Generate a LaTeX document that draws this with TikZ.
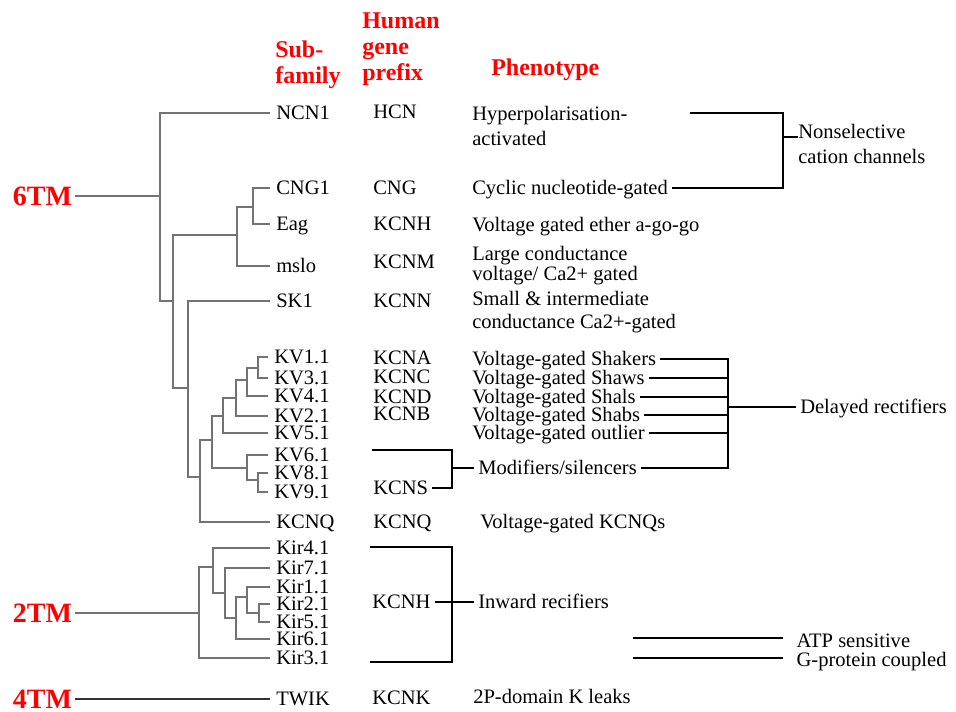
\documentclass[tikz,border=0pt]{standalone}
\usepackage{fontspec}
\setmainfont{Liberation Serif}[BoldFont={Liberation Serif Bold}]
\newcommand\lift{\rule{0pt}{14pt}}

\begin{document}
\begin{tikzpicture}[x=0.75pt, y=-0.75pt,
    lbl/.style={anchor=west, inner xsep=3pt, inner ysep=0pt, text height=10.2pt, text depth=0pt,
      font=\fontsize{15.4}{18}\selectfont},
    leaf/.style={lbl, inner xsep=4.5pt},
    twoline/.style={anchor=north west, inner sep=0pt, align=left, font=\fontsize{15.4}{#1}\selectfont},
    head/.style={anchor=north west, inner sep=0pt, align=left, text=red,
      font=\fontsize{18}{19.5}\selectfont\bfseries},
    tm/.style={anchor=west, inner xsep=2pt, inner ysep=0pt, text height=13.9pt, text depth=0pt,
      text=red, font=\fontsize{21}{24}\selectfont\bfseries},
    tree/.style={draw=black!55, line width=0.8pt},
    bracket/.style={draw=black, line width=1.1pt}]

  \fill[white] (0,0) rectangle (956,711);
  \useasboundingbox (0,0) rectangle (956,711);

  \node[head] (sub) at (275,38.3) {\lift Sub-\\family};
  \node[head] (hum) at (362,9.3) {\lift Human\\gene\\prefix};
  \node[head, anchor=base west] (phen) at (491,75) {Phenotype};

  \node[tm] (tm6) at (10,196) {6TM};
  \node[tm] (tm2) at (10,613) {2TM};
  \node[tm] (tm4) at (10,699) {4TM};

  % sub-family
  \node[leaf] (ncn) at (270,113) {NCN1};
  \node[leaf] (cng) at (270,188) {CNG1};
  \node[leaf] (eag) at (270,224) {Eag};
  \node[leaf] (mslo) at (270,266) {mslo};
  \node[leaf] (sk1) at (270,301) {SK1};
  \node[leaf] (kv1) at (268,357) {KV1.1};
  \node[leaf] (kv3) at (268,378) {KV3.1};
  \node[leaf] (kv4) at (268,396) {KV4.1};
  \node[leaf] (kv2) at (268,416) {KV2.1};
  \node[leaf] (kv5) at (268,433) {KV5.1};
  \node[leaf] (kv6) at (268,455) {KV6.1};
  \node[leaf] (kv8) at (268,473) {KV8.1};
  \node[leaf] (kv9) at (268,492) {KV9.1};
  \node[leaf] (kcnq) at (270,522) {KCNQ};
  \node[leaf] (kir4) at (270,548) {Kir4.1};
  \node[leaf] (kir7) at (270,568) {Kir7.1};
  \node[leaf] (kir1) at (270,587) {Kir1.1};
  \node[leaf] (kir2) at (270,604) {Kir2.1};
  \node[leaf] (kir5) at (270,622) {Kir5.1};
  \node[leaf] (kir6) at (270,639) {Kir6.1};
  \node[leaf] (kir3) at (270,658) {Kir3.1};
  \node[leaf] (twik) at (270,699) {TWIK};

  % gene prefix
  \node[lbl] (hcn) at (369,112) {HCN};
  \node[lbl] (cngg) at (369,188) {CNG};
  \node[lbl] (kcnh) at (369,224) {KCNH};
  \node[lbl] (kcnm) at (369,262) {KCNM};
  \node[lbl] (kcnn) at (369,301) {KCNN};
  \node[lbl] (kcna) at (369,358) {KCNA};
  \node[lbl] (kcnc) at (369,377) {KCNC};
  \node[lbl] (kcnd) at (369,397) {KCND};
  \node[lbl] (kcnb) at (369,414) {KCNB};
  \node[lbl] (kcns) at (369,488) {KCNS};
  \node[lbl] (kcnqg) at (369,522) {KCNQ};
  \node[lbl] (kcnh2) at (368,602) {KCNH};
  \node[lbl] (kcnk) at (368,698) {KCNK};

  % phenotype
  \node[twoline=18.75] (hyp) at (472,101.1) {\lift Hyperpolarisation-\\activated};
  \node[lbl] (cyc) at (468,188) {Cyclic nucleotide-gated};
  \node[lbl] (eagp) at (468,225) {Voltage gated ether a-go-go};
  \node[twoline=15] (large) at (472,241.1) {\lift Large conductance\\voltage/ Ca2+ gated};
  \node[twoline=17.25] (small) at (472,286.1) {\lift Small \& intermediate\\conductance Ca2+-gated};
  \node[lbl] (shk) at (468,359) {Voltage-gated Shakers};
  \node[lbl] (shw) at (468,378) {Voltage-gated Shaws};
  \node[lbl] (shl) at (468,397) {Voltage-gated Shals};
  \node[lbl] (shb) at (468,415) {Voltage-gated Shabs};
  \node[lbl] (otl) at (468,433) {Voltage-gated outlier};
  \node[lbl] (mod) at (474,468) {Modifiers/silencers};
  \node[lbl] (kcnqp) at (476,522) {Voltage-gated KCNQs};
  \node[lbl] (inw) at (474,602) {Inward recifiers};
  \node[lbl] (leak) at (469,697) {2P-domain K leaks};

  \node[twoline=18.75] (nsc) at (798,119.1) {\lift Nonselective\\cation channels};
  \node[lbl] (dr) at (796,407) {Delayed rectifiers};
  \node[lbl, inner xsep=10pt] (atp) at (783,641) {ATP sensitive};
  \node[lbl, inner xsep=10pt] (gpc) at (783,660) {G-protein coupled};

  % 6TM tree
  \coordinate (nA) at (160,196);
  \coordinate (nB) at (173,301);
  \coordinate (nC) at (237,235);
  \coordinate (nE) at (253,207);
  \coordinate (nD) at (188,388);
  \coordinate (nF) at (200,477);
  \coordinate (nG) at (212,440);
  \coordinate (nH) at (223,416);
  \coordinate (nJ) at (236,398);
  \coordinate (nK) at (247,380);
  \coordinate (nL) at (258,368);
  \coordinate (nI) at (247,468);
  \coordinate (nM) at (258,480);

  \draw[tree] (tm6.east) -- (nA);
  \draw[tree] (nA) |- (ncn.west);
  \draw[tree] (nA) |- (nB);
  \draw[tree] (nB) |- (nC);
  \draw[tree] (nB) |- (nD);
  \draw[tree] (nC) |- (nE);
  \draw[tree] (nC) |- (mslo.west);
  \draw[tree] (nE) |- (cng.west);
  \draw[tree] (nE) |- (eag.west);
  \draw[tree] (nD) |- (sk1.west);
  \draw[tree] (nD) |- (nF);
  \draw[tree] (nF) |- (nG);
  \draw[tree] (nF) |- (kcnq.west);
  \draw[tree] (nG) |- (nH);
  \draw[tree] (nG) |- (nI);
  \draw[tree] (nH) |- (nJ);
  \draw[tree] (nH) |- (kv5.west);
  \draw[tree] (nJ) |- (nK);
  \draw[tree] (nJ) |- (kv2.west);
  \draw[tree] (nK) |- (nL);
  \draw[tree] (nK) |- (kv4.west);
  \draw[tree] (nL) |- (kv1.west);
  \draw[tree] (nL) |- (kv3.west);
  \draw[tree] (nI) |- (kv6.west);
  \draw[tree] (nI) |- (nM);
  \draw[tree] (nM) |- (kv8.west);
  \draw[tree] (nM) |- (kv9.west);

  % 2TM tree
  \coordinate (nN) at (199,613);
  \coordinate (nO) at (213,567);
  \coordinate (nP) at (225,593);
  \coordinate (nQ) at (236,618);
  \coordinate (nR) at (247,597);
  \coordinate (nS) at (259,613);

  \draw[tree] (tm2.east) -- (nN);
  \draw[tree] (nN) |- (nO);
  \draw[tree] (nN) |- (kir3.west);
  \draw[tree] (nO) |- (kir4.west);
  \draw[tree] (nO) |- (nP);
  \draw[tree] (nP) |- (kir7.west);
  \draw[tree] (nP) |- (nQ);
  \draw[tree] (nQ) |- (nR);
  \draw[tree] (nQ) |- (kir6.west);
  \draw[tree] (nR) |- (kir1.west);
  \draw[tree] (nR) |- (nS);
  \draw[tree] (nS) |- (kir2.west);
  \draw[tree] (nS) |- (kir5.west);

  \draw[tree, draw=black!80] (tm4.east) -- (twik.west);

  % brackets
  \coordinate (hypR) at (690,113);
  \coordinate (j1) at (783,137);
  \draw[bracket] (hypR) -| (j1) |- (cyc.east);
  \draw[bracket] (j1) -- (j1 -| nsc.west);

  \coordinate (j2) at (728,407);
  \draw[bracket] (shk.east) -| (j2) |- (mod.east);
  \draw[bracket] (shw.east) -- (shw.east -| j2);
  \draw[bracket] (shl.east) -- (shl.east -| j2);
  \draw[bracket] (shb.east) -- (shb.east -| j2);
  \draw[bracket] (otl.east) -- (otl.east -| j2);
  \draw[bracket] (j2) -- (dr.west);

  \coordinate (ksTop) at (372,450);
  \coordinate (j3) at (452,468);
  \draw[bracket] (ksTop) -| (j3) |- (kcns.east);
  \draw[bracket] (j3) -- (mod.west);

  \coordinate (kirTop) at (370,547);
  \coordinate (j4) at (452,602);
  \coordinate (kirBot) at (370,662);
  \draw[bracket] (kirTop) -| (j4) |- (kirBot);
  \draw[bracket] (kcnh2.east) -- (inw.west);

  \coordinate (atpL) at (633,638);
  \coordinate (gpcL) at (633,658);
  \draw[bracket] (atpL) -- (atpL -| atp.west);
  \draw[bracket] (gpcL) -- (gpcL -| gpc.west);

\end{tikzpicture}
\end{document}
